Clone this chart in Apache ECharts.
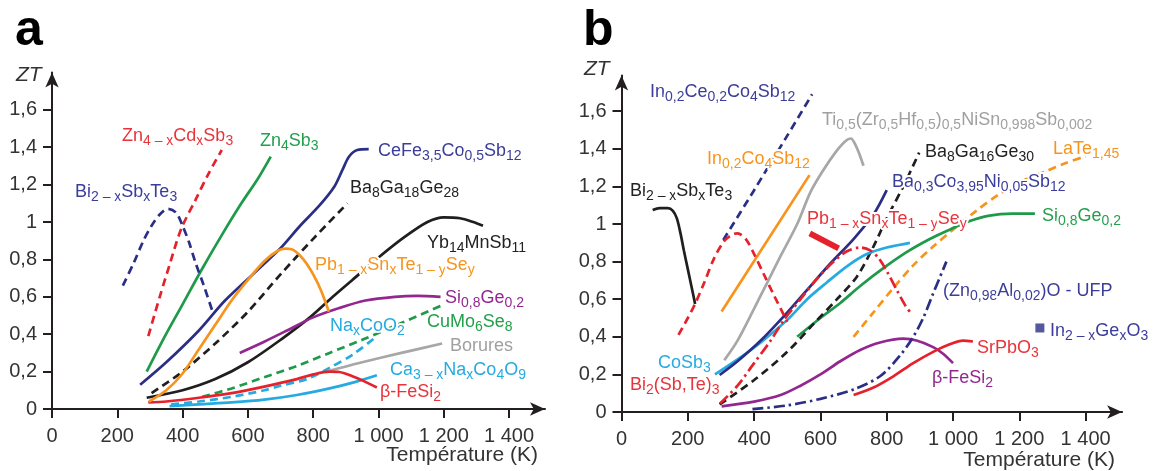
<!DOCTYPE html>
<html><head><meta charset="utf-8">
<script src="https://cdn.jsdelivr.net/npm/echarts@6/dist/echarts.min.js"></script>
<style>html,body{margin:0;padding:0;background:#fff}#c{width:1155px;height:471px}</style>
</head><body><div id="c"></div>
<script>
// ---------- tick values ----------
const X_TICKS = [0, 200, 400, 600, 800, 1000, 1200, 1400];
const Y_TICKS = [0, 0.2, 0.4, 0.6, 0.8, 1, 1.2, 1.4, 1.6];

// ---------- panel a series ([T (K), ZT]) ----------
const aBiSbTe   = [[217,0.66],[250,0.78],[280,0.9],[305,0.98],[330,1.04],[355,1.07],[380,1.05],[400,0.98],[420,0.89],[440,0.78],[465,0.66],[490,0.53]];
const aZnCdSb   = [[295,0.39],[330,0.6],[360,0.77],[395,0.96],[440,1.12],[480,1.26],[520,1.385]];
const aZnSb     = [[290,0.2],[340,0.37],[400,0.56],[460,0.75],[520,0.93],[580,1.1],[630,1.23],[670,1.35]];
const aCeFe     = [[270,0.13],[350,0.25],[450,0.42],[530,0.58],[640,0.76],[700,0.86],[760,0.98],[820,1.09],[865,1.19],[890,1.28],[910,1.35],[935,1.385],[970,1.39]];
const aBaGaGe   = [[305,0.085],[400,0.2],[500,0.35],[600,0.52],[700,0.72],[800,0.91],[905,1.1]];
const aPbSnTe   = [[297,0.04],[350,0.1],[400,0.19],[450,0.32],[500,0.45],[550,0.58],[600,0.69],[650,0.79],[690,0.845],[715,0.858],[740,0.85],[770,0.8],[800,0.72],[825,0.63],[848,0.52]];
const aYbMnSb   = [[290,0.06],[400,0.1],[500,0.16],[600,0.25],[700,0.37],[790,0.49],[860,0.6],[920,0.69],[1000,0.81],[1080,0.92],[1150,1.0],[1200,1.025],[1250,1.02],[1290,1.0],[1320,0.98]];
const aSiGe     = [[575,0.3],[650,0.36],[720,0.42],[800,0.49],[880,0.54],[960,0.58],[1050,0.6],[1120,0.605],[1190,0.6]];
const aCuMoSe   = [[460,0.065],[550,0.11],[650,0.17],[750,0.23],[850,0.3],[950,0.37],[1070,0.46],[1195,0.555]];
const aNaCoO    = [[365,0.025],[450,0.04],[550,0.065],[650,0.1],[700,0.125],[780,0.16],[850,0.22],[920,0.29],[985,0.375]];
const aBorures  = [[840,0.2],[950,0.25],[1070,0.3],[1195,0.35]];
const aCaNaCoO  = [[360,0.015],[450,0.025],[550,0.035],[650,0.05],[750,0.075],[850,0.11],[930,0.145],[995,0.18]];
const aFeSi     = [[295,0.035],[350,0.04],[450,0.06],[550,0.085],[650,0.12],[750,0.16],[800,0.185],[850,0.2],[880,0.198],[920,0.175],[960,0.145],[995,0.115]];

// ---------- panel b series ----------
const bBiSbTe   = [[94,1.075],[115,1.085],[140,1.085],[155,1.07],[167,1.03],[178,0.95],[188,0.86],[200,0.76],[212,0.66],[222,0.575]];
const bBiSbTe2  = [[172,0.41],[200,0.5],[222,0.575],[250,0.69],[280,0.82],[310,0.91],[335,0.945],[350,0.95],[375,0.92],[400,0.84],[430,0.73],[460,0.62],[500,0.48]];
const bInCeCoSb = [[307,0.915],[400,1.18],[500,1.47],[575,1.69]];
const bInCoSb   = [[302,0.535],[567,1.26]];
const bTiZrHf   = [[310,0.275],[350,0.38],[400,0.55],[440,0.69],[480,0.83],[530,1.0],[570,1.17],[610,1.29],[645,1.38],[675,1.44],[692,1.455],[706,1.42],[718,1.37],[730,1.31]];
const bCoSb     = [[282,0.2],[350,0.28],[420,0.37],[500,0.49],[560,0.6],[620,0.69],[680,0.775],[740,0.84],[800,0.875],[870,0.9]];
const bBaCoNiSb = [[296,0.197],[350,0.27],[420,0.38],[490,0.51],[560,0.65],[630,0.79],[700,0.92],[760,1.05],[800,1.18]];
const bBaGaGe   = [[296,0.04],[400,0.17],[500,0.32],[580,0.47],[650,0.6],[710,0.72],[760,0.88],[800,1.03],[850,1.2],[898,1.38]];
const bPbSnTe   = [[297,0.045],[350,0.14],[400,0.26],[450,0.38],[490,0.49],[540,0.6],[590,0.71],[640,0.8],[680,0.855],[720,0.875],[750,0.86],[775,0.82],[800,0.75],[830,0.65],[855,0.57],[875,0.52]];
const bPbBar    = [[568,0.95],[655,0.87]];
const bSiGe     = [[530,0.4],[600,0.5],[660,0.58],[720,0.67],[790,0.765],[860,0.85],[930,0.92],[990,0.97],[1040,1.01],[1110,1.045],[1180,1.055],[1247,1.055]];
const bLaTe     = [[700,0.4],[760,0.53],[820,0.66],[880,0.78],[940,0.88],[1000,0.97],[1070,1.07],[1140,1.16],[1210,1.23],[1280,1.28],[1340,1.325],[1400,1.36]];
const bZnAlO    = [[395,0.015],[500,0.035],[600,0.07],[700,0.12],[780,0.19],[840,0.3],[880,0.4],[910,0.5],[940,0.63],[980,0.8]];
const bFeSi     = [[302,0.03],[400,0.055],[480,0.09],[540,0.14],[600,0.2],[660,0.27],[720,0.33],[780,0.37],[850,0.39],[890,0.38],[940,0.345],[970,0.31],[1000,0.26]];
const bSrPbO    = [[700,0.09],[760,0.13],[820,0.19],[880,0.26],[940,0.32],[990,0.36],[1030,0.38],[1060,0.375]];
const bInGeO    = [[1262,0.447]];

// ---------- styles ----------
const FONT = '"Liberation Sans", Arial, sans-serif';
const AX = '#231f20';
const C = {
  navy:'#2b2e85', navyT:'#3b3d9b', red:'#e5222b', redT:'#e8333a', green:'#1f9a4a', greenT:'#22a04b',
  orange:'#f7941d', purple:'#93278f', cyan:'#25aae1', gray:'#a7a7a7', grayT:'#a0a0a0', black:'#1f1f1f'
};
const DASH = [8,5], DASHDOT = [11,4,2.5,4];

const fmtX = v => v > 1400 ? '' : (v >= 1000 ? Math.floor(v/1000) + ' ' + String(v % 1000).padStart(3,'0') : String(v));
const fmtY = v => v > 1.65 ? '' : String(Math.round(v*10)/10).replace('.', ',');

function xAx(gi) {
  return {type:'value', gridIndex:gi, min:0, max:1510, interval:200,
    axisLine:{show:true, onZero:false, lineStyle:{color:AX, width:2}, symbol:['none','arrow'], symbolSize:[10,15]},
    axisTick:{show:true, length:9, lineStyle:{color:AX, width:2}, customValues:X_TICKS},
    axisLabel:{customValues:X_TICKS, formatter:fmtX, fontSize:20, color:'#333', margin:17, fontFamily:FONT},
    splitLine:{show:false}};
}
function yAx(gi, max) {
  return {type:'value', gridIndex:gi, min:0, max:max, interval:0.2,
    axisLine:{show:true, onZero:false, lineStyle:{color:AX, width:2}, symbol:['none','arrow'], symbolSize:[10,15]},
    axisTick:{show:true, length:9, lineStyle:{color:AX, width:2}, customValues:Y_TICKS},
    axisLabel:{customValues:Y_TICKS, formatter:fmtY, fontSize:20, color:'#333', margin:15, fontFamily:FONT},
    splitLine:{show:false}};
}
function ln(gi, data, color, type, width) {
  return {type:'line', xAxisIndex:gi, yAxisIndex:gi, data:data, showSymbol:false, symbol:'none',
    smooth:0.3, silent:true,
    lineStyle:{color:color, width:width || 2.7, type:type || 'solid', cap:'butt'}};
}

// ---------- label layout (left x, middle y, px) ----------
const LABELS = [
  ['Zn_{4 – x}Cd_{x}Sb_{3}', 122, 136, C.redT],
  ['Zn_{4}Sb_{3}', 260, 141, C.greenT],
  ['Bi_{2 – x}Sb_{x}Te_{3}', 75, 192, C.navyT],
  ['CeFe_{3,5}Co_{0,5}Sb_{12}', 378, 151, C.navyT],
  ['Ba_{8}Ga_{18}Ge_{28}', 350, 188, '#222'],
  ['Yb_{14}MnSb_{11}', 427, 243, '#222'],
  ['Pb_{1 – x}Sn_{x}Te_{1 – y}Se_{y}', 315, 265, C.orange],
  ['Si_{0,8}Ge_{0,2}', 445, 298, C.purple],
  ['Na_{x}CoO_{2}', 330, 326, C.cyan],
  ['CuMo_{6}Se_{8}', 427, 322, C.greenT],
  ['Borures', 450, 346, C.grayT],
  ['Ca_{3 – x}Na_{x}Co_{4}O_{9}', 390, 370, C.cyan],
  ['β-FeSi_{2}', 380, 392, C.redT],
  ['In_{0,2}Ce_{0,2}Co_{4}Sb_{12}', 650, 92, C.navyT],
  ['Ti_{0,5}(Zr_{0,5}Hf_{0,5})_{0,5}NiSn_{0,998}Sb_{0,002}', 822, 120, C.grayT],
  ['In_{0,2}Co_{4}Sb_{12}', 707, 159, C.orange],
  ['Bi_{2 – x}Sb_{x}Te_{3}', 630, 191, '#222'],
  ['Ba_{8}Ga_{16}Ge_{30}', 925, 152, '#222'],
  ['LaTe_{1,45}', 1053, 149, C.orange],
  ['Ba_{0,3}Co_{3,95}Ni_{0,05}Sb_{12}', 892, 182, C.navyT],
  ['Pb_{1 – x}Sn_{x}Te_{1 – y}Se_{y}', 807, 219, C.redT],
  ['Si_{0,8}Ge_{0,2}', 1042, 216, C.greenT],
  ['(Zn_{0,98}Al_{0,02})O - UFP', 943, 291, C.navyT],
  ['In_{2 – x}Ge_{x}O_{3}', 1050, 331, C.navyT],
  ['CoSb_{3}', 658, 363, C.cyan],
  ['Bi_{2}(Sb,Te)_{3}', 630, 385, C.redT],
  ['SrPbO_{3}', 977, 348, C.redT],
  ['β-FeSi_{2}', 932, 378, C.purple]
];

function toRich(s) {
  let out = '', re = /_\{([^}]*)\}/g, last = 0, m;
  while ((m = re.exec(s))) {
    if (m.index > last) out += '{m|' + s.slice(last, m.index) + '}';
    out += '{s|' + m[1] + '}';
    last = re.lastIndex;
  }
  if (last < s.length) out += '{m|' + s.slice(last) + '}';
  return out;
}
const RICH = {
  m:{fontSize:18, lineHeight:25, fontFamily:FONT, stroke:'#fff', lineWidth:4},
  s:{fontSize:14, lineHeight:12, verticalAlign:'bottom', fontFamily:FONT, stroke:'#fff', lineWidth:4}
};

const graphics = LABELS.map(L => ({
  type:'text', x:L[1], y:L[2], z:100, silent:true,
  style:{text:toRich(L[0]), rich:RICH, fill:L[3], stroke:'#fff', lineWidth:4,
         fontSize:18, fontFamily:FONT, align:'left', verticalAlign:'middle'}
}));
const plain = (t, x, y, size, extra) => Object.assign({type:'text', x:x, y:y, z:100, silent:true,
  style:Object.assign({text:t, fill:'#231f20', fontSize:size, fontFamily:FONT, align:'left', verticalAlign:'middle'}, extra || {})});
graphics.push(plain('a', 15, 31, 50, {fontWeight:'bold', fill:'#000'}));
graphics.push(plain('b', 583, 31, 50, {fontWeight:'bold', fill:'#000'}));
graphics.push(plain('ZT', 16, 75, 21, {fontStyle:'italic', fill:'#333'}));
graphics.push(plain('ZT', 584, 69, 21, {fontStyle:'italic', fill:'#333'}));
graphics.push(plain('Température (K)', 538, 455, 21, {align:'right', fill:'#333'}));
graphics.push(plain('Température (K)', 1115, 460, 21, {align:'right', fill:'#333'}));

const option = {
  animation:false,
  backgroundColor:'#fff',
  grid:[
    {left:52, top:72.4, width:493, height:336.6},
    {left:621.5, top:75.5, width:500.6, height:336.5}
  ],
  xAxis:[xAx(0), xAx(1)],
  yAxis:[yAx(0, 1.8), yAx(1, 1.79)],
  series:[
    ln(0, aBorures, C.gray),
    ln(0, aCaNaCoO, C.cyan),
    ln(0, aNaCoO, C.cyan, DASH),
    ln(0, aCuMoSe, C.green, DASH),
    ln(0, aFeSi, C.red),
    ln(0, aYbMnSb, C.black),
    ln(0, aSiGe, C.purple),
    ln(0, aBaGaGe, C.black, DASH),
    ln(0, aCeFe, C.navy),
    ln(0, aPbSnTe, C.orange),
    ln(0, aZnSb, C.green),
    ln(0, aZnCdSb, C.red, DASH),
    ln(0, aBiSbTe, C.navy, DASH),

    ln(1, bFeSi, C.purple),
    ln(1, bSrPbO, C.red),
    ln(1, bZnAlO, C.navy, DASHDOT),
    ln(1, bLaTe, C.orange, DASH),
    ln(1, bSiGe, C.green),
    ln(1, bBaGaGe, C.black, DASH),
    ln(1, bCoSb, C.cyan),
    ln(1, bBaCoNiSb, C.navy),
    ln(1, bPbSnTe, C.red, DASHDOT),
    ln(1, bPbBar, C.red, 'solid', 6),
    ln(1, bTiZrHf, C.gray),
    ln(1, bInCoSb, C.orange),
    ln(1, bInCeCoSb, C.navy, DASH),
    ln(1, bBiSbTe2, C.red, DASH),
    ln(1, bBiSbTe, C.black),
    {type:'scatter', xAxisIndex:1, yAxisIndex:1, data:bInGeO, symbol:'rect', symbolSize:9,
     itemStyle:{color:C.navy}, silent:true}
  ],
  graphic:graphics
};
const chart = echarts.init(document.getElementById('c'));
chart.setOption(option);
</script>
</body></html>
